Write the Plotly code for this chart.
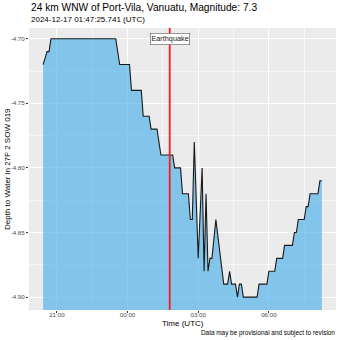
import plotly.graph_objects as go

# ---- data ----
times = [
    "2024-12-16 20:25", "2024-12-16 20:35", "2024-12-16 20:40", "2024-12-16 20:45",
    "2024-12-16 23:30", "2024-12-16 23:40", "2024-12-17 00:05", "2024-12-17 00:10",
    "2024-12-17 00:35", "2024-12-17 00:40", "2024-12-17 00:55", "2024-12-17 01:00",
    "2024-12-17 01:15", "2024-12-17 01:25", "2024-12-17 01:55", "2024-12-17 02:00",
    "2024-12-17 02:15", "2024-12-17 02:20", "2024-12-17 02:35", "2024-12-17 02:40",
    "2024-12-17 02:45", "2024-12-17 02:50", "2024-12-17 03:00", "2024-12-17 03:10",
    "2024-12-17 03:15", "2024-12-17 03:20", "2024-12-17 03:25", "2024-12-17 03:30",
    "2024-12-17 03:35", "2024-12-17 03:45", "2024-12-17 04:05", "2024-12-17 04:15",
    "2024-12-17 04:20", "2024-12-17 04:25", "2024-12-17 04:35", "2024-12-17 04:40",
    "2024-12-17 04:45", "2024-12-17 04:50", "2024-12-17 04:55", "2024-12-17 05:30",
    "2024-12-17 05:35", "2024-12-17 05:55", "2024-12-17 06:00", "2024-12-17 06:15",
    "2024-12-17 06:20", "2024-12-17 06:35", "2024-12-17 06:40", "2024-12-17 07:00",
    "2024-12-17 07:05", "2024-12-17 07:10", "2024-12-17 07:15", "2024-12-17 07:30",
    "2024-12-17 07:35", "2024-12-17 07:40", "2024-12-17 07:45", "2024-12-17 08:05",
    "2024-12-17 08:10", "2024-12-17 08:15",
]
depth = [
    -4.72, -4.71, -4.71, -4.70,
    -4.70, -4.72, -4.72, -4.74,
    -4.74, -4.76, -4.76, -4.77,
    -4.77, -4.79, -4.79, -4.80,
    -4.80, -4.82, -4.82, -4.84,
    -4.84, -4.78, -4.87, -4.80,
    -4.88, -4.82, -4.88, -4.87,
    -4.87, -4.84, -4.89, -4.89,
    -4.88, -4.89, -4.89, -4.90,
    -4.89, -4.89, -4.90, -4.90,
    -4.89, -4.89, -4.88, -4.88,
    -4.87, -4.87, -4.86, -4.86,
    -4.85, -4.85, -4.84, -4.84,
    -4.83, -4.83, -4.82, -4.82,
    -4.81, -4.81,
]
quake_time = "2024-12-17 01:47:25.741"
quake_label = "Earthquake"
y_ticks = [-4.70, -4.75, -4.80, -4.85, -4.90]
y_tick_text = ["-4.70", "-4.75", "-4.80", "-4.85", "-4.90"]
title_text = "24 km WNW of Port-Vila, Vanuatu, Magnitude: 7.3"
subtitle_text = "2024-12-17 01:47:25.741 (UTC)"
x_title = "Time (UTC)"
y_title = "Depth to Water in 27F 2 SOW 019"
caption = "Data may be provisional and subject to revision"
fill_floor = -5.0

# ---- layout geometry ----
W = H = 340
L, R, T, B = 29, 4, 28, 30
PW, PH = W - L - R, H - T - B
def px(x):
    return (x - L) / PW
def py(y):
    return (H - B - y) / PH

FONT = "Liberation Sans, Arial, sans-serif"

fig = go.Figure()
fig.add_trace(go.Scatter(x=times, y=[fill_floor] * len(times), mode="lines",
                         line=dict(width=0, color="rgba(0,0,0,0)"),
                         hoverinfo="skip", showlegend=False))
fig.add_trace(go.Scatter(x=times, y=depth, mode="lines", fill="tonexty",
                         fillcolor="rgba(86,180,233,0.7)",
                         line=dict(color="#1a1a1a", width=1.1),
                         showlegend=False))

fig.add_shape(type="line", xref="x", yref="paper", x0=quake_time, x1=quake_time,
              y0=0, y1=1, line=dict(color="#ff1a1a", width=1.8), layer="above")

fig.add_annotation(x=quake_time, y=-4.70, xref="x", yref="y", text=quake_label,
                   showarrow=False, font=dict(family=FONT, size=7.3, color="#222222"),
                   bgcolor="white", bordercolor="#555555", borderwidth=0.6, borderpad=0.8,
                   xanchor="center", yanchor="middle")

ann = [
    dict(text=title_text, x=px(29), y=py(8), size=10.2, anchor="left", color="black"),
    dict(text=subtitle_text, x=px(29), y=py(19), size=8, anchor="left", color="black"),
    dict(text=x_title, x=px(182.5), y=py(323.5), size=8, anchor="center", color="black"),
    dict(text=caption, x=px(337), y=py(333), size=6.4, anchor="right", color="black"),
]
for a in ann:
    fig.add_annotation(text=a["text"], x=a["x"], y=a["y"], xref="paper", yref="paper",
                       showarrow=False, xanchor=a["anchor"], yanchor="middle",
                       font=dict(family=FONT, size=a["size"], color=a["color"]))
fig.add_annotation(text=y_title, x=px(7), y=py(169), xref="paper", yref="paper",
                   showarrow=False, textangle=-90, xanchor="center", yanchor="middle",
                   font=dict(family=FONT, size=8, color="black"))

fig.update_layout(
    width=W, height=H, margin=dict(l=L, r=R, t=T, b=B, pad=0),
    paper_bgcolor="white", plot_bgcolor="#EBEBEB",
    font=dict(family=FONT),
    showlegend=False,
    xaxis=dict(type="date", range=["2024-12-16 19:49", "2024-12-17 08:51"],
               tick0="2024-12-16 21:00", dtick=3 * 3600000, tickformat="%H:%M",
               showgrid=True, gridcolor="white", gridwidth=1,
               minor=dict(tick0="2024-12-16 22:30", dtick=3 * 3600000, showgrid=True,
                          gridcolor="rgba(255,255,255,0.6)", gridwidth=0.6),
               ticks="outside", ticklen=2, tickcolor="#333333", tickwidth=0.8,
               ticklabelstandoff=-3,
               tickfont=dict(family=FONT, size=6.2, color="#4d4d4d"),
               zeroline=False, showline=False, fixedrange=True),
    yaxis=dict(range=[-4.91, -4.6917], tickvals=y_ticks, ticktext=y_tick_text,
               showgrid=True, gridcolor="white", gridwidth=1,
               minor=dict(tick0=-4.725, dtick=0.05, showgrid=True,
                          gridcolor="rgba(255,255,255,0.6)", gridwidth=0.6),
               ticks="outside", ticklen=2, tickcolor="#333333", tickwidth=0.8,
               tickfont=dict(family=FONT, size=6.2, color="#4d4d4d"),
               zeroline=False, showline=False, fixedrange=True),
)

fig.write_html("out.html")
